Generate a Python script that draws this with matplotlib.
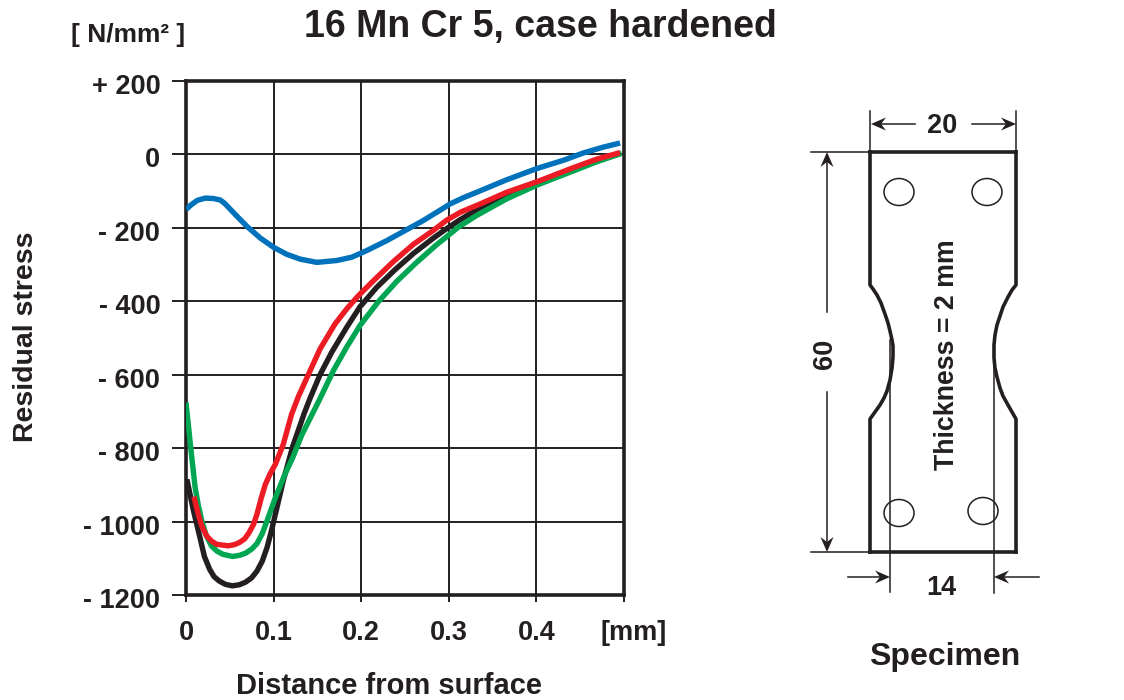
import matplotlib
matplotlib.use('Agg')
import matplotlib.pyplot as plt
from matplotlib.patches import Ellipse
from matplotlib.transforms import ScaledTranslation

plt.rcParams['font.family'] = ['Liberation Sans', 'DejaVu Sans']
plt.rcParams['font.weight'] = 'bold'

DARK = '#231f20'

# curves, distance [mm] / stress [N/mm2]
blue_x = [0.0, 0.006, 0.013, 0.022, 0.031, 0.039, 0.044, 0.05, 0.058, 0.07, 0.085, 0.1, 0.115, 0.1301, 0.1492, 0.172, 0.1891, 0.2062, 0.229, 0.2519, 0.2709, 0.29, 0.3014, 0.3165, 0.3319, 0.3661, 0.4011, 0.4308, 0.4536, 0.4765, 0.4955]
blue_y = [-150, -137, -125, -119, -120, -124, -133, -148, -168, -197, -228, -253, -272, -285, -294, -289, -280, -262, -235, -205, -180, -152, -135, -118, -103, -69, -38, -16, 4, 20, 31]
black_x = [0.001, 0.0086, 0.016, 0.021, 0.027, 0.032, 0.038, 0.045, 0.053, 0.061, 0.068, 0.075, 0.081, 0.087, 0.0925, 0.097, 0.102, 0.111, 0.122, 0.135, 0.1415, 0.153, 0.1663, 0.1834, 0.1986, 0.2177, 0.2386, 0.2595, 0.2823, 0.2976, 0.3128, 0.3357, 0.3661, 0.4011, 0.4422, 0.4955]
black_y = [-885, -971, -1044, -1095, -1130, -1150, -1162, -1171, -1175, -1172, -1165, -1153, -1135, -1108, -1071, -1030, -980, -889, -794, -705, -665, -600, -539, -471, -415, -362, -314, -270, -228, -202, -178, -145, -110, -78, -40, 3]
green_x = [0.0, 0.005, 0.0104, 0.014, 0.018, 0.023, 0.029, 0.035, 0.042, 0.053, 0.061, 0.068, 0.075, 0.081, 0.087, 0.0925, 0.102, 0.113, 0.122, 0.132, 0.153, 0.1682, 0.1834, 0.1986, 0.2196, 0.2405, 0.2633, 0.2861, 0.2976, 0.3109, 0.3319, 0.3661, 0.4011, 0.4422, 0.4688, 0.4974]
green_y = [-676, -790, -907, -955, -998, -1037, -1066, -1080, -1089, -1095, -1092, -1086, -1075, -1060, -1033, -998, -935, -871, -825, -765, -665, -589, -525, -466, -401, -346, -294, -246, -224, -198, -166, -121, -83, -45, -20, 3]
red_x = [0.009, 0.014, 0.018, 0.0235, 0.029, 0.035, 0.048, 0.055, 0.061, 0.067, 0.072, 0.077, 0.081, 0.086, 0.0907, 0.096, 0.102, 0.111, 0.1205, 0.1282, 0.1396, 0.153, 0.17, 0.1834, 0.1967, 0.2157, 0.2367, 0.2595, 0.2823, 0.2976, 0.3136, 0.3357, 0.3661, 0.4011, 0.4422, 0.4688, 0.4955]
red_y = [-932, -980, -1012, -1039, -1053, -1062, -1066, -1063, -1057, -1047, -1030, -1008, -980, -935, -898, -870, -844, -790, -708, -660, -600, -530, -462, -421, -385, -340, -292, -245, -207, -179, -157, -135, -103, -74, -36, -13, 5]

x_ticks = [0, 0.1, 0.2, 0.3, 0.4, 0.5]
x_labels = ['0', '0.1', '0.2', '0.3', '0.4', '']
y_ticks = [200, 0, -200, -400, -600, -800, -1000, -1200]
y_labels = ['+ 200', '0', '- 200', '- 400', '- 600', '- 800', '- 1000', '- 1200']

# specimen outline, in pixels of the picture
left_x = [870, 870, 873, 877, 881, 885, 888, 890, 892, 893, 893, 892, 890, 887, 884, 880, 875, 870, 870]
left_y = [152, 285, 289, 295, 303, 314, 323, 331, 340, 346, 357, 368, 380, 391, 398, 405, 412, 419, 552]
right_x = [1016, 1016, 1012, 1008, 1003, 1000, 997, 995, 994, 994, 995, 997, 1000, 1003, 1008, 1012, 1016, 1016]
right_y = [152, 285, 290, 297, 307, 316, 325, 335, 345, 358, 368, 377, 388, 396, 405, 412, 419, 552]
hole_x = [899, 987, 899, 983]
hole_y = [192, 192, 513, 511]

W, H = 1124, 700
fig = plt.figure(figsize=(W / 100, H / 100), dpi=100)

ax = fig.add_axes([186 / W, 1 - 595 / H, (624 - 186) / W, (595 - 81) / H])
for xs, ys, col, z in [(blue_x, blue_y, '#0072bc', 3), (black_x, black_y, DARK, 4),
                       (green_x, green_y, '#00a651', 5), (red_x, red_y, '#ed1c24', 6)]:
    ax.plot(xs, ys, color=col, lw=3.9, solid_capstyle='butt', solid_joinstyle='round', zorder=z)
ax.set_xlim(0, 0.5)
ax.set_ylim(-1200, 200)
ax.set_xticks(x_ticks, x_labels, fontsize=19.5)
ax.set_yticks(y_ticks, y_labels, fontsize=19.5)
ax.grid(True, color=DARK, lw=1.4)
ax.tick_params(axis='x', length=5, width=1.4, color=DARK, pad=13, labelcolor=DARK)
ax.tick_params(axis='y', length=10, width=1.4, color=DARK, pad=8.5, labelcolor=DARK)
for s in ax.spines.values():
    s.set_linewidth(2.6)
    s.set_color(DARK)
# y labels sit a little below their grid lines
for lab in ax.get_yticklabels():
    lab.set_transform(lab.get_transform() + ScaledTranslation(0, -0.03, fig.dpi_scale_trans))

# overlay in pixel coordinates for the texts and the specimen
ov = fig.add_axes([0, 0, 1, 1])
ov.set_xlim(0, W)
ov.set_ylim(H, 0)
ov.axis('off')
ov.patch.set_alpha(0)


def txt(x, y, s, size=19.5, rot=0):
    ov.text(x, y, s, fontsize=size, rotation=rot, ha='center', va='center', color=DARK)


def arrow(tail, tip, fixed, vertical=False):
    # shaft plus a barbed head
    d = 1 if tip > tail else -1
    along = [tip, tip - d * 15, tip - d * 10, tip - d * 15]
    across = [fixed, fixed - 6.5, fixed, fixed + 6.5]
    if vertical:
        ov.plot([fixed, fixed], [tail, tip - d * 10], color=DARK, lw=1.1)
        ov.fill(across, along, color=DARK, lw=0)
    else:
        ov.plot([tail, tip - d * 10], [fixed, fixed], color=DARK, lw=1.1)
        ov.fill(along, across, color=DARK, lw=0)


txt(540, 27, '16 Mn Cr 5, case hardened', 27)
txt(128, 35, '[ N/mm² ]', 19)
txt(26, 337, 'Residual stress', 20.5, 90)
txt(389, 686, 'Distance from surface', 21)
txt(634, 633, '[mm]', 19.5)

ov.plot(left_x, left_y, color=DARK, lw=2.6)
ov.plot(right_x, right_y, color=DARK, lw=2.6)
ov.plot([870, 1016], [152, 152], color=DARK, lw=2.6)
ov.plot([870, 1016], [552, 552], color=DARK, lw=2.6)
for hx, hy in zip(hole_x, hole_y):
    ov.add_patch(Ellipse((hx, hy), 30, 27, fc='none', ec=DARK, lw=1.1))

# dimension lines
for x0, y0, x1, y1 in [(870, 111, 870, 152), (1016, 111, 1016, 152),
                       (811, 152, 870, 152), (811, 552, 870, 552),
                       (890, 340, 890, 592), (994, 340, 994, 593)]:
    ov.plot([x0, x1], [y0, y1], color=DARK, lw=1.1)
arrow(915, 871, 124)
arrow(972, 1016, 124)
arrow(312, 152, 827, vertical=True)
arrow(392, 552, 827, vertical=True)
arrow(848, 890, 577)
arrow(1039, 994, 577)

txt(942, 126, '20', 19.5)
txt(825, 354, '60', 19.5, 90)
txt(941, 588, '14', 19.5)
txt(947, 355, 'Thickness = 2 mm', 19.3, 90)
txt(945, 657, 'Specimen', 23)

fig.savefig('out.png', dpi=100)
